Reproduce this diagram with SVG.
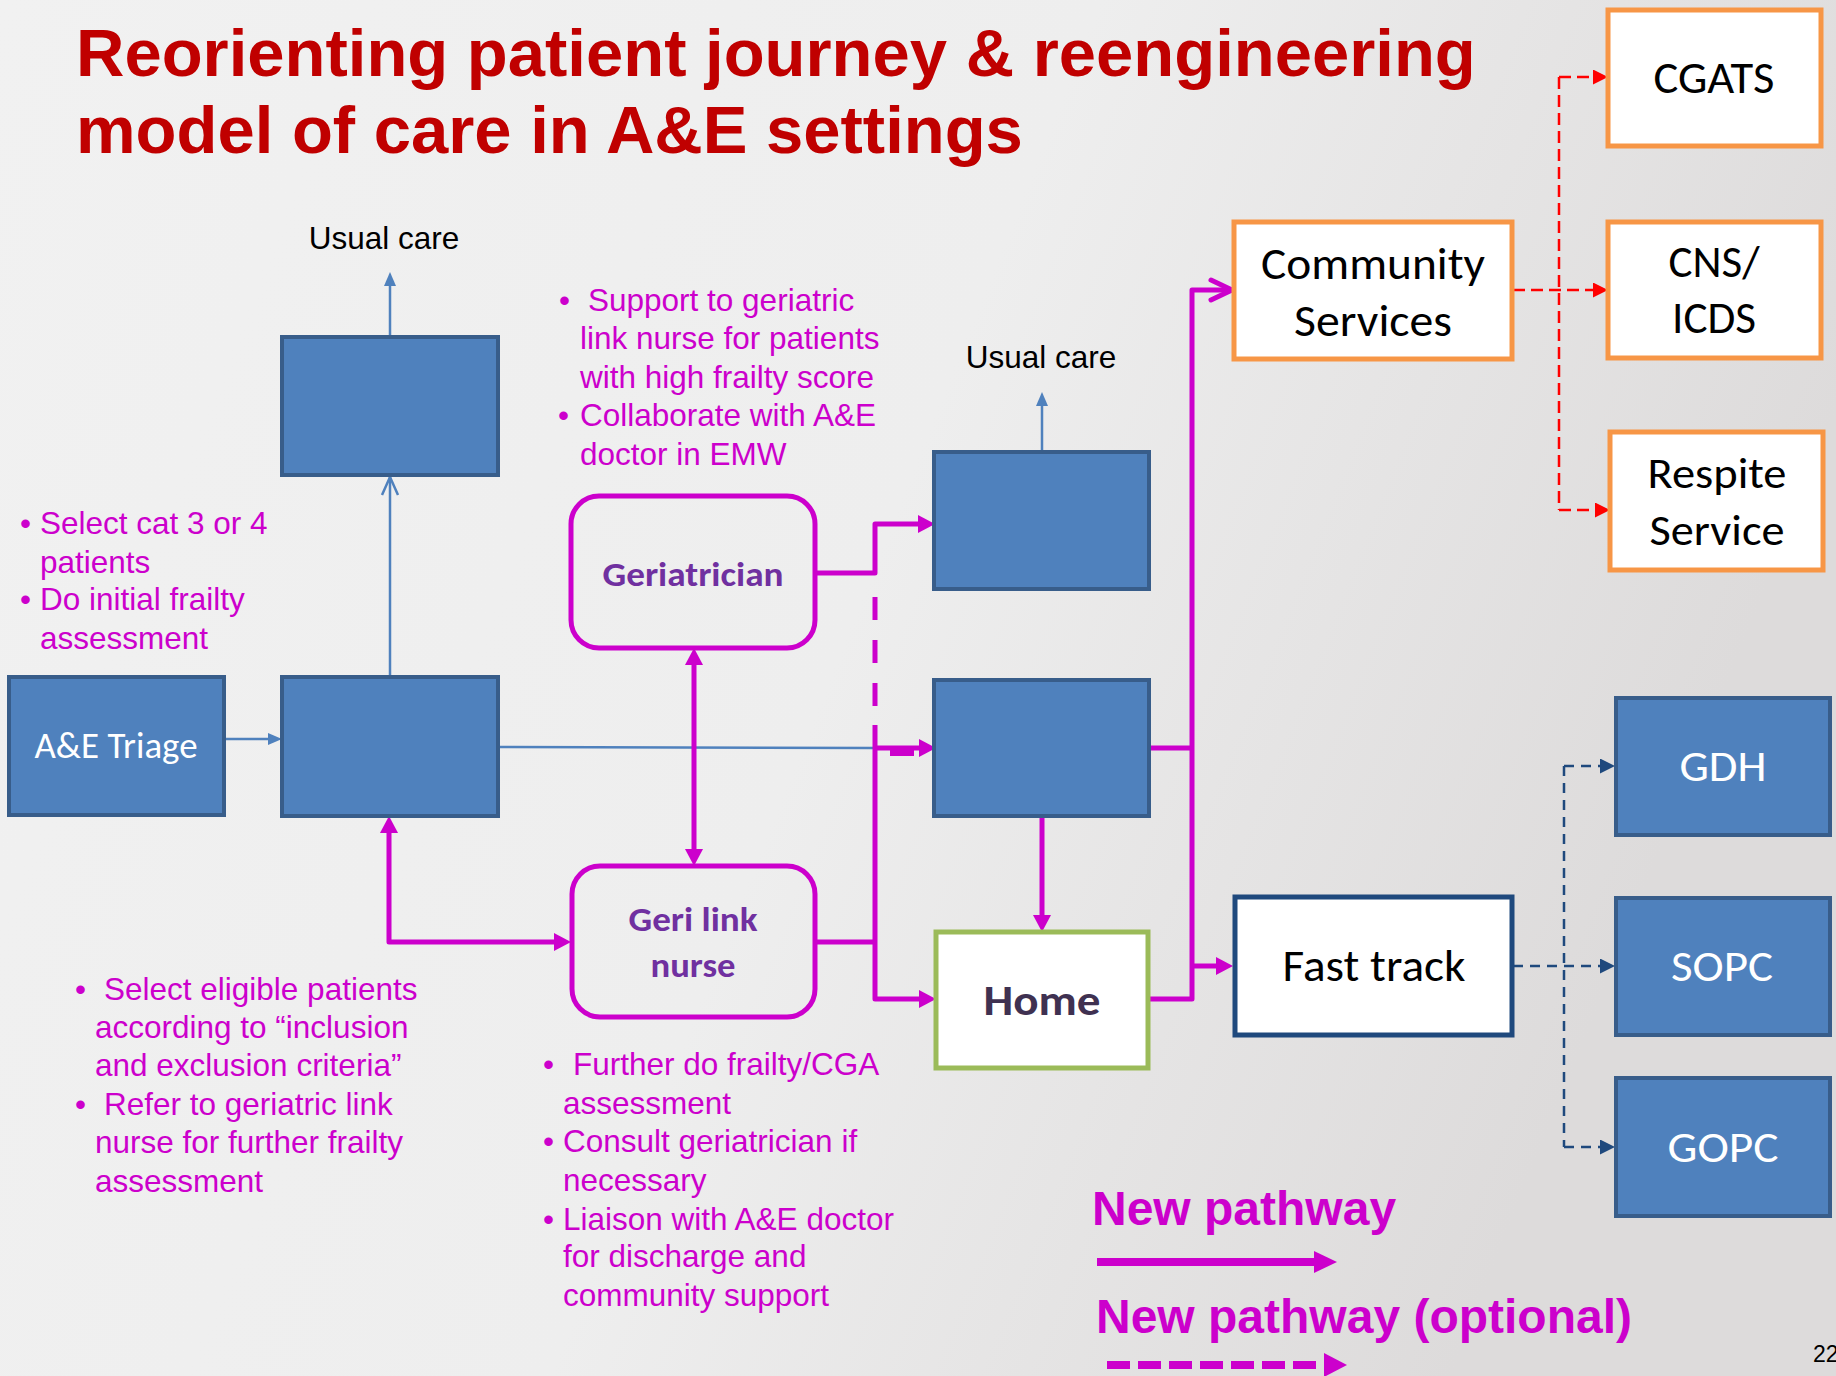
<svg xmlns="http://www.w3.org/2000/svg" width="1836" height="1376" viewBox="0 0 1836 1376">
<defs>
<linearGradient id="bg" x1="0" y1="0" x2="1" y2="0.3">
<stop offset="0" stop-color="#F1F1F1"/>
<stop offset="0.55" stop-color="#EEEEEE"/>
<stop offset="1" stop-color="#DDDBDB"/>
</linearGradient>
<marker id="mag" markerUnits="userSpaceOnUse" markerWidth="17" markerHeight="18" viewBox="0 0 17 18" refX="0" refY="9" orient="auto-start-reverse"><path d="M0,0 L17,9 L0,18 z" fill="#CC00CC"/></marker>
<marker id="blu" markerUnits="userSpaceOnUse" markerWidth="14" markerHeight="12" viewBox="0 0 14 12" refX="0" refY="6" orient="auto"><path d="M0,0 L14,6 L0,12 z" fill="#4F81BD"/></marker>
<marker id="red" markerUnits="userSpaceOnUse" markerWidth="15" markerHeight="15" viewBox="0 0 15 15" refX="0" refY="7.5" orient="auto"><path d="M0,0 L15,7.5 L0,15 z" fill="#FF0000"/></marker>
<marker id="nav" markerUnits="userSpaceOnUse" markerWidth="15" markerHeight="15" viewBox="0 0 15 15" refX="0" refY="7.5" orient="auto"><path d="M0,0 L15,7.5 L0,15 z" fill="#1F497D"/></marker>
</defs>
<style>
.blue{fill:#4F81BD;stroke:#385D8A;stroke-width:4}
.orange{fill:#FFFFFF;stroke:#F79646;stroke-width:5}
.navybox{fill:#FFFFFF;stroke:#1F497D;stroke-width:5}
.geri{fill:none;stroke:#CC00CC;stroke-width:5}
.m{fill:none;stroke:#CC00CC;stroke-width:5;stroke-linejoin:round}
.b{fill:none;stroke:#4F81BD;stroke-width:2.5}
.rd{fill:none;stroke:#FF0000;stroke-width:2.5;stroke-dasharray:12 6}
.nv{fill:none;stroke:#1F497D;stroke-width:2.5;stroke-dasharray:10 7}
.cal{font-family:Carlito,Lato,"Open Sans",sans-serif;text-anchor:middle}
.pink{font-family:"Liberation Sans",Arial,sans-serif;font-size:31.5px;fill:#CC00CC}
.usual{font-family:"Liberation Sans",Arial,sans-serif;font-size:31.5px;fill:#000000;text-anchor:middle}
</style>
<rect x="0" y="0" width="1836" height="1376" fill="url(#bg)"/>

<g id="title" font-family="'Liberation Sans',Arial,sans-serif" font-weight="bold" font-size="67" fill="#C00000">
<text x="76" y="76">Reorienting patient journey &amp; reengineering</text>
<text x="76" y="153">model of care in A&amp;E settings</text>
</g>

<g id="connectors">
<path class="b" d="M224,739 H268" marker-end="url(#blu)"/>
<path class="b" d="M390,677 V477"/>
<polyline class="b" points="382,495 390,477 398,495"/>
<path class="b" d="M390,337 V286" marker-end="url(#blu)"/>
<path class="b" d="M1042,452 V406" marker-end="url(#blu)"/>
<path class="b" d="M498,747 L876,748"/>
<path class="m" d="M815,573 H875 V524 H918" marker-end="url(#mag)"/>
<path class="m" d="M875,597 V725" stroke-dasharray="23 20"/>
<path class="m" d="M875,725 V999 H919" marker-end="url(#mag)"/>
<path class="m" d="M875,748 H919" marker-end="url(#mag)"/>
<rect x="890" y="750" width="24" height="6" fill="#CC00CC"/>
<path class="m" d="M815,942 H875"/>
<path class="m" d="M694,665 V849" marker-start="url(#mag)" marker-end="url(#mag)"/>
<path class="m" d="M389,833 V942 H554" marker-start="url(#mag)" marker-end="url(#mag)"/>
<path class="m" d="M1042,816 V915" marker-end="url(#mag)"/>
<path class="m" d="M1149,748 H1192"/>
<path class="m" d="M1149,999 H1192 V290 H1230"/>
<polyline class="m" points="1211,280 1232,290 1211,300" stroke-linecap="round"/>
<path class="m" d="M1192,966 H1216" marker-end="url(#mag)"/>
<path class="rd" d="M1513,290 H1593" stroke-width="3.5" stroke-dasharray="10 6" marker-end="url(#red)"/>
<path class="rd" d="M1559,77 V510"/>
<path class="rd" d="M1559,77 H1593" marker-end="url(#red)"/>
<path class="rd" d="M1559,510 H1595" marker-end="url(#red)"/>
<path class="nv" d="M1513,966 H1600" marker-end="url(#nav)"/>
<path class="nv" d="M1564,766 V1147"/>
<path class="nv" d="M1564,766 H1600" marker-end="url(#nav)"/>
<path class="nv" d="M1564,1147 H1600" marker-end="url(#nav)"/>
</g>

<g id="usual-care-1"><text class="usual" x="384" y="249">Usual care</text></g>
<g id="usual-care-2"><text class="usual" x="1041" y="368">Usual care</text></g>

<g id="box1"><rect class="blue" x="282" y="337" width="216" height="138"/></g>
<g id="box2"><rect class="blue" x="282" y="677" width="216" height="139"/></g>
<g id="triage"><rect class="blue" x="9" y="677" width="215" height="138"/>
<text class="cal" x="116" y="758" font-size="36" fill="#FFFFFF" textLength="163" lengthAdjust="spacingAndGlyphs">A&amp;E Triage</text></g>
<g id="box3"><rect class="blue" x="934" y="452" width="215" height="137"/></g>
<g id="box4"><rect class="blue" x="934" y="680" width="215" height="136"/></g>

<g id="geriatrician"><rect class="geri" x="571" y="496" width="244" height="152" rx="28"/>
<text class="cal" x="693" y="586" font-size="34" font-weight="bold" fill="#7030A0" textLength="181" lengthAdjust="spacingAndGlyphs">Geriatrician</text></g>
<g id="geri-link-nurse"><rect class="geri" x="572" y="866" width="243" height="151" rx="28"/>
<text class="cal" x="693" y="931" font-size="35" font-weight="bold" fill="#7030A0" textLength="129" lengthAdjust="spacingAndGlyphs">Geri link</text>
<text class="cal" x="693" y="977" font-size="35" font-weight="bold" fill="#7030A0" textLength="85" lengthAdjust="spacingAndGlyphs">nurse</text></g>

<g id="home"><rect x="936" y="932" width="212" height="136" fill="#FFFFFF" stroke="#9BBB59" stroke-width="5"/>
<text class="cal" x="1042" y="1015" font-size="43" font-weight="bold" fill="#3F3151" textLength="117" lengthAdjust="spacingAndGlyphs">Home</text></g>

<g id="community"><rect class="orange" x="1234" y="222" width="278" height="137"/>
<text class="cal" x="1373" y="279" font-size="46" fill="#000000" textLength="224" lengthAdjust="spacingAndGlyphs">Community</text>
<text class="cal" x="1373" y="336" font-size="46" fill="#000000" textLength="158" lengthAdjust="spacingAndGlyphs">Services</text></g>
<g id="cgats"><rect class="orange" x="1608" y="10" width="213" height="136"/>
<text class="cal" x="1714" y="93" font-size="45" fill="#000000" textLength="121" lengthAdjust="spacingAndGlyphs">CGATS</text></g>
<g id="cns"><rect class="orange" x="1608" y="222" width="213" height="136"/>
<text class="cal" x="1714" y="277" font-size="45" fill="#000000" textLength="91" lengthAdjust="spacingAndGlyphs">CNS/</text>
<text class="cal" x="1714" y="333" font-size="45" fill="#000000" textLength="84" lengthAdjust="spacingAndGlyphs">ICDS</text></g>
<g id="respite"><rect class="orange" x="1610" y="432" width="213" height="138"/>
<text class="cal" x="1717" y="488" font-size="44" fill="#000000" textLength="139" lengthAdjust="spacingAndGlyphs">Respite</text>
<text class="cal" x="1717" y="545" font-size="44" fill="#000000" textLength="135" lengthAdjust="spacingAndGlyphs">Service</text></g>

<g id="fast-track"><rect class="navybox" x="1235" y="897" width="277" height="138"/>
<text class="cal" x="1374" y="981" font-size="45" fill="#000000" textLength="183" lengthAdjust="spacingAndGlyphs">Fast track</text></g>
<g id="gdh"><rect class="blue" x="1616" y="698" width="214" height="137"/>
<text class="cal" x="1723" y="781" font-size="43" fill="#FFFFFF" textLength="87" lengthAdjust="spacingAndGlyphs">GDH</text></g>
<g id="sopc"><rect class="blue" x="1616" y="898" width="214" height="137"/>
<text class="cal" x="1722" y="981" font-size="43" fill="#FFFFFF" textLength="102" lengthAdjust="spacingAndGlyphs">SOPC</text></g>
<g id="gopc"><rect class="blue" x="1616" y="1078" width="214" height="138"/>
<text class="cal" x="1723" y="1162" font-size="43" fill="#FFFFFF" textLength="111" lengthAdjust="spacingAndGlyphs">GOPC</text></g>

<g id="note-triage" class="pink">
<text x="20" y="534">•</text><text x="40" y="534">Select cat 3 or 4</text>
<text x="40" y="573">patients</text>
<text x="20" y="610">•</text><text x="40" y="610">Do initial frailty</text>
<text x="40" y="649">assessment</text>
</g>
<g id="note-geriatrician" class="pink">
<text x="559" y="311">•</text><text x="588" y="311">Support to geriatric</text>
<text x="580" y="349">link nurse for patients</text>
<text x="580" y="388">with high frailty score</text>
<text x="558" y="426">•</text><text x="580" y="426">Collaborate with A&amp;E</text>
<text x="580" y="465">doctor in EMW</text>
</g>
<g id="note-selection" class="pink">
<text x="75" y="1000">•</text><text x="104" y="1000">Select eligible patients</text>
<text x="95" y="1038">according to “inclusion</text>
<text x="95" y="1076">and exclusion criteria”</text>
<text x="75" y="1115">•</text><text x="104" y="1115">Refer to geriatric link</text>
<text x="95" y="1153">nurse for further frailty</text>
<text x="95" y="1192">assessment</text>
</g>
<g id="note-nurse" class="pink">
<text x="543" y="1075">•</text><text x="573" y="1075">Further do frailty/CGA</text>
<text x="563" y="1114">assessment</text>
<text x="543" y="1152">•</text><text x="563" y="1152">Consult geriatrician if</text>
<text x="563" y="1191">necessary</text>
<text x="543" y="1230">•</text><text x="563" y="1230">Liaison with A&amp;E doctor</text>
<text x="563" y="1267">for discharge and</text>
<text x="563" y="1306">community support</text>
</g>

<g id="legend" font-family="'Liberation Sans',Arial,sans-serif" font-weight="bold" font-size="48" fill="#CC00CC">
<text x="1092" y="1225">New pathway</text>
<path d="M1097,1262 H1315" stroke="#CC00CC" stroke-width="8" fill="none"/>
<polygon points="1314,1251 1337,1262 1314,1273"/>
<text x="1096" y="1333">New pathway (optional)</text>
<path d="M1107,1365 H1325" stroke="#CC00CC" stroke-width="8" stroke-dasharray="23 8" fill="none"/>
<polygon points="1324,1353 1347,1365 1324,1377"/>
</g>

<g id="page-number"><text x="1813" y="1362" font-family="'Liberation Sans',Arial,sans-serif" font-size="23" fill="#000000">22</text></g>
</svg>
